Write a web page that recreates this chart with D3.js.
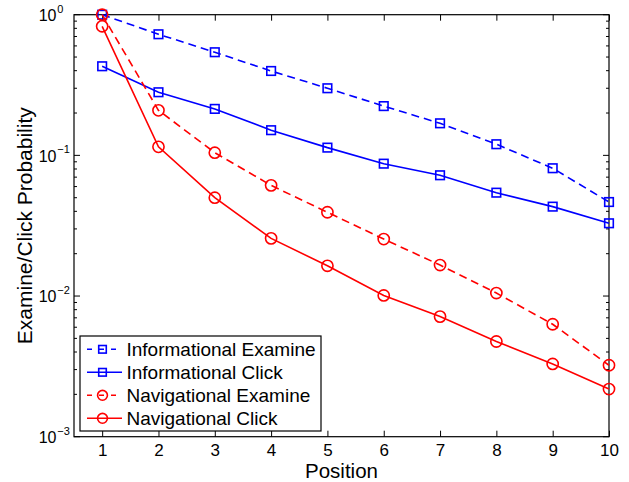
<!DOCTYPE html>
<html>
<head>
<meta charset="utf-8">
<script src="https://cdn.jsdelivr.net/npm/d3@7"></script>
<style>
  body { margin: 0; background: #fff; }
  text { font-family: "Liberation Sans", Arial, Helvetica, sans-serif; fill: #000; }
</style>
</head>
<body>
<div id="chart-area"></div>
<script>
// SVG Size
let width = 629,
	height = 482;

// data
let positions = [1, 2, 3, 4, 5, 6, 7, 8, 9, 10];
let infoExamine = [1.0, 0.726, 0.541, 0.398, 0.300, 0.224, 0.169, 0.120, 0.081, 0.0466];
let infoClick = [0.430, 0.281, 0.214, 0.151, 0.1135, 0.0873, 0.0722, 0.0543, 0.0432, 0.0329];
let navExamine = [1.0, 0.209, 0.1045, 0.0612, 0.0394, 0.0254, 0.0166, 0.0105, 0.0063, 0.00322];
let navClick = [0.827, 0.115, 0.050, 0.0257, 0.0164, 0.0101, 0.00714, 0.00475, 0.00329, 0.00218];
let seriesNames = ["Informational Examine", "Informational Click", "Navigational Examine", "Navigational Click"];
let yTickExponents = [0, -1, -2, -3];

let series = [
	{ name: seriesNames[0], values: infoExamine, color: "#0000ff", dash: "8,5", marker: "square" },
	{ name: seriesNames[1], values: infoClick, color: "#0000ff", dash: null, marker: "square" },
	{ name: seriesNames[2], values: navExamine, color: "#ff0000", dash: "8,5", marker: "circle" },
	{ name: seriesNames[3], values: navClick, color: "#ff0000", dash: null, marker: "circle" }
];

drawChart();

function drawMarker(g, type, cx, cy, color, s) {
	if (type === "square") {
		g.append("rect")
			.attr("x", cx - 4.3 * s).attr("y", cy - 4.3 * s)
			.attr("width", 8.6 * s).attr("height", 8.6 * s)
			.attr("fill", "none").attr("stroke", color).attr("stroke-width", 1.6);
	} else {
		g.append("circle")
			.attr("cx", cx).attr("cy", cy).attr("r", 5.6 * s)
			.attr("fill", "none").attr("stroke", color).attr("stroke-width", 1.6);
	}
}

function drawChart() {
	let svg = d3.select("#chart-area")
		.append("svg")
		.attr("width", width)
		.attr("height", height);

	let left = 74, right = 609, top = 14.7, bottom = 436.7;

	let x = d3.scaleLinear().domain([0.5, 10]).range([left, right]);
	let y = d3.scaleLog().domain([1e-3, 1]).range([bottom, top]);

	// minor + major y ticks
	let minor = [];
	yTickExponents.slice(1).forEach(e => {
		for (let k = 2; k <= 9; k++) minor.push(k * Math.pow(10, e));
	});
	let major = yTickExponents.map(e => Math.pow(10, e));

	let axes = svg.append("g").attr("stroke", "#000").attr("stroke-width", 1);
	minor.forEach(v => {
		axes.append("line").attr("x1", left).attr("x2", left + 3).attr("y1", y(v)).attr("y2", y(v));
		axes.append("line").attr("x1", right).attr("x2", right - 3).attr("y1", y(v)).attr("y2", y(v));
	});
	major.forEach(v => {
		axes.append("line").attr("x1", left).attr("x2", left + 6).attr("y1", y(v)).attr("y2", y(v));
		axes.append("line").attr("x1", right).attr("x2", right - 6).attr("y1", y(v)).attr("y2", y(v));
	});

	// x axes (bottom with labels, top ticks only)
	let xAxis = d3.axisBottom(x).tickValues(positions).tickSize(-6).tickPadding(6.8);
	let gx = svg.append("g")
		.attr("transform", "translate(0," + bottom + ")")
		.call(xAxis);
	gx.select(".domain").remove();
	gx.selectAll("line").attr("stroke", "#000");
	gx.selectAll("text").style("font-size", "17px").style("font-family", "Liberation Sans, Arial, sans-serif").attr("fill", "#000");

	let gxTop = svg.append("g")
		.attr("transform", "translate(0," + top + ")")
		.call(d3.axisTop(x).tickValues(positions).tickSize(-6).tickFormat(""));
	gxTop.select(".domain").remove();
	gxTop.selectAll("line").attr("stroke", "#000");

	// box
	svg.append("rect")
		.attr("x", left).attr("y", top)
		.attr("width", right - left).attr("height", bottom - top)
		.attr("fill", "none").attr("stroke", "#000").attr("stroke-width", 1.2);

	// y tick labels 10^n
	yTickExponents.forEach(e => {
		let ty = y(Math.pow(10, e));
		svg.append("text")
			.attr("x", 56.5).attr("y", ty + 6.4)
			.attr("text-anchor", "end")
			.style("font-size", "16px")
			.text("10");
		svg.append("text")
			.attr("x", 57.3).attr("y", ty - 2)
			.style("font-size", "11px")
			.text(e === 0 ? "0" : "\u2212" + (-e));
	});

	// lines
	let line = d3.line()
		.x((d, i) => x(positions[i]))
		.y(d => y(d));

	series.forEach(s => {
		svg.append("path")
			.datum(s.values)
			.attr("d", line)
			.attr("fill", "none")
			.attr("stroke", s.color)
			.attr("stroke-width", 1.6)
			.attr("stroke-dasharray", s.dash);
		let g = svg.append("g");
		s.values.forEach((v, i) => drawMarker(g, s.marker, x(positions[i]), y(v), s.color, 1));
	});

	// legend
	let legend = svg.append("g");
	legend.append("rect")
		.attr("x", 80).attr("y", 336)
		.attr("width", 241).attr("height", 95)
		.attr("fill", "#fff").attr("stroke", "#000").attr("stroke-width", 1.2);
	series.forEach((s, i) => {
		let ly = 349.3 + i * 23;
		legend.append("line")
			.attr("x1", 87).attr("x2", 122)
			.attr("y1", ly).attr("y2", ly)
			.attr("stroke", s.color).attr("stroke-width", 1.6)
			.attr("stroke-dasharray", s.dash ? "5,7" : null);
		drawMarker(legend, s.marker, 102.5, ly, s.color, 0.88);
		legend.append("text")
			.attr("x", 126.5).attr("y", ly + 6.6)
			.style("font-size", "19px")
			.text(s.name);
	});

	// axis titles
	svg.append("text")
		.attr("x", (left + right) / 2)
		.attr("y", 478)
		.attr("text-anchor", "middle")
		.style("font-size", "20.5px")
		.text("Position");

	svg.append("text")
		.attr("transform", "translate(32," + ((top + bottom) / 2) + ") rotate(-90)")
		.attr("text-anchor", "middle")
		.style("font-size", "21px")
		.text("Examine/Click Probability");
}
</script>
</body>
</html>
